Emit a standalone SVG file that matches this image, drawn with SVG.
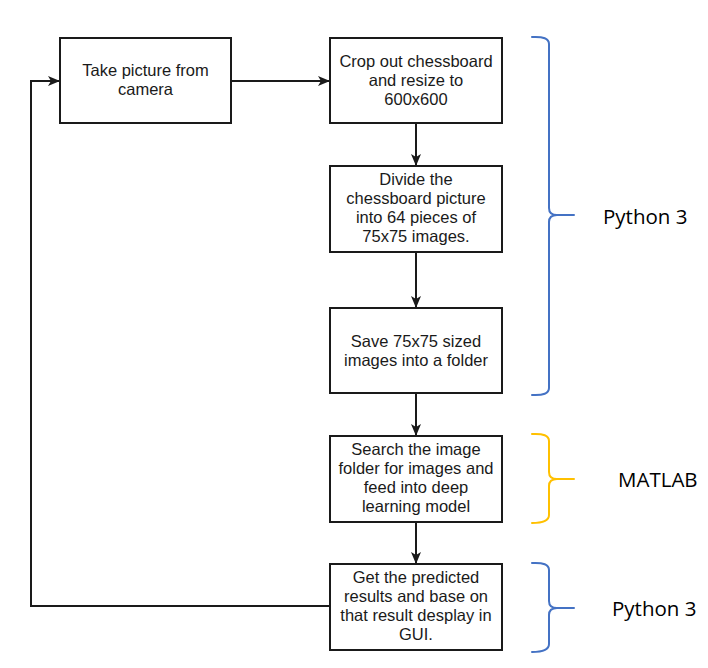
<svg xmlns="http://www.w3.org/2000/svg" width="708" height="668" viewBox="0 0 708 668">
<style>
.box{fill:#fff;stroke:#1a1a1a;stroke-width:2}
.t{font-family:"Liberation Sans",Arial,sans-serif;font-size:16.5px;fill:#1a1a1a;text-anchor:middle}
.c{fill:none;stroke:#1a1a1a;stroke-width:2}
.br{fill:none;stroke-width:2;stroke-linecap:round}
.lab{font-family:"Open Sans","Noto Sans",sans-serif;font-size:20.5px;fill:#000}
</style>
<defs>
<marker id="ah" viewBox="0 0 12 10" refX="11" refY="5" markerWidth="12" markerHeight="10" markerUnits="userSpaceOnUse" orient="auto">
<path d="M0,0 L12,5 L0,10 L3,5 Z" fill="#1a1a1a"/>
</marker>
</defs>
<rect width="708" height="668" fill="#fff"/>
<g id="connectors">
<line class="c" x1="231" y1="81" x2="329" y2="81" marker-end="url(#ah)"/>
<line class="c" x1="416" y1="123" x2="416" y2="165" marker-end="url(#ah)"/>
<line class="c" x1="416" y1="252" x2="416" y2="307" marker-end="url(#ah)"/>
<line class="c" x1="416" y1="393" x2="416" y2="435" marker-end="url(#ah)"/>
<line class="c" x1="416" y1="522" x2="416" y2="563" marker-end="url(#ah)"/>
<polyline class="c" points="330,606 31,606 31,81 59,81" marker-end="url(#ah)"/>
</g>
<g id="n1"><rect class="box" x="60" y="38" width="171" height="85"/>
<text class="t" x="145.5" y="76">Take picture from</text><text class="t" x="145.5" y="95">camera</text></g>
<g id="n2"><rect class="box" x="330" y="38" width="172" height="85"/>
<text class="t" x="416" y="66.5">Crop out chessboard</text><text class="t" x="416" y="85.5">and resize to</text><text class="t" x="416" y="104.5">600x600</text></g>
<g id="n3"><rect class="box" x="330" y="166" width="172" height="86"/>
<text class="t" x="416" y="185">Divide the</text><text class="t" x="416" y="204">chessboard picture</text><text class="t" x="416" y="223">into 64 pieces of</text><text class="t" x="416" y="242">75x75 images.</text></g>
<g id="n4"><rect class="box" x="330" y="308" width="172" height="85"/>
<text class="t" x="416" y="347">Save 75x75 sized</text><text class="t" x="416" y="366">images into a folder</text></g>
<g id="n5"><rect class="box" x="330" y="436" width="172" height="86"/>
<text class="t" x="416" y="455">Search the image</text><text class="t" x="416" y="474">folder for images and</text><text class="t" x="416" y="493">feed into deep</text><text class="t" x="416" y="512">learning model</text></g>
<g id="n6"><rect class="box" x="330" y="564" width="172" height="86"/>
<text class="t" x="416" y="583">Get the predicted</text><text class="t" x="416" y="602">results and base on</text><text class="t" x="416" y="621">that result desplay in</text><text class="t" x="416" y="640">GUI.</text></g>
<g id="brace1">
<path class="br" stroke="#4472C4" d="M532,37 Q549,36 549,44 L549,208 Q549,215 557,215 L574,215 M557,215 Q549,215 549,222 L549,388 Q549,396 532,395"/>
<text class="lab" x="603" y="224">Python 3</text></g>
<g id="brace2">
<path class="br" stroke="#FFC000" d="M532,434 Q549,433 549,441 L549,472 Q549,479 557,479 L574,479 M557,479 Q549,479 549,486 L549,515 Q549,523 532,523"/>
<text class="lab" x="618" y="487">MATLAB</text></g>
<g id="brace3">
<path class="br" stroke="#4472C4" d="M532,563 Q549,562 549,570 L549,601 Q549,608 557,608 L574,608 M557,608 Q549,608 549,615 L549,644 Q549,652 532,652"/>
<text class="lab" x="612" y="616">Python 3</text></g>
</svg>
